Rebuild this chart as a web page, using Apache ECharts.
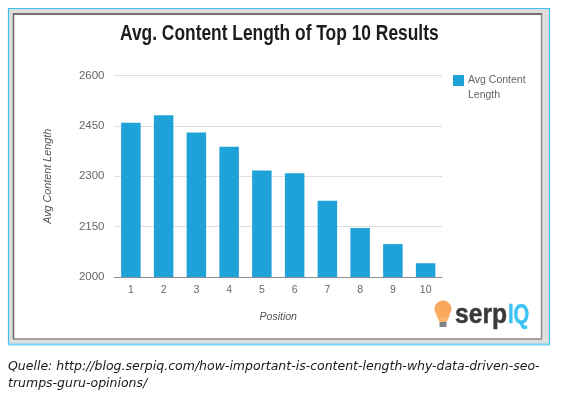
<!DOCTYPE html>
<html><head><meta charset="utf-8">
<style>html,body{margin:0;padding:0;background:#fff}#c{width:562px;height:393px}</style>
<script src="https://cdn.jsdelivr.net/npm/echarts@6/dist/echarts.min.js"></script>
</head><body><div id="c"></div>
<script>
const categories = ['1','2','3','4','5','6','7','8','9','10'];
const avgContentLength = [2459,2482,2430,2388,2317,2309,2227,2146,2098,2041];
const titleText = 'Avg. Content Length of Top 10 Results';
const seriesName = 'Avg Content Length';
const yAxisName = 'Avg Content Length';
const xAxisName = 'Position';
const captionText = 'Quelle: http://blog.serpiq.com/how-important-is-content-length-why-data-driven-seo-\ntrumps-guru-opinions/';
const chart = echarts.init(document.getElementById('c'), null, {renderer:'canvas'});
chart.setOption({
  animation:false,
  backgroundColor:'#fff',
  legend:{show:false},
  grid:{left:114.5,right:120,top:75.5,bottom:116,containLabel:false},
  xAxis:{type:'category',data:categories,name:xAxisName,nameLocation:'middle',nameGap:35,
    nameTextStyle:{fontFamily:'Liberation Sans',fontStyle:'italic',fontSize:10.5,color:'#555'},
    axisTick:{show:false},axisLine:{lineStyle:{color:'#8c8c8c',width:1}},
    axisLabel:{fontFamily:'Liberation Sans',fontSize:10.5,color:'#666',margin:8}},
  yAxis:{type:'value',min:2000,max:2600,interval:150,name:yAxisName,nameLocation:'middle',nameGap:61,nameRotate:90,
    nameTextStyle:{fontFamily:'Liberation Sans',fontStyle:'italic',fontSize:10.8,color:'#555'},
    axisLine:{show:false},axisTick:{show:false},
    splitLine:{lineStyle:{color:'#dedede',width:1}},
    axisLabel:{fontFamily:'Liberation Sans',fontSize:11.5,color:'#666',margin:10,formatter:v=>String(v)}},
  series:[{type:'bar',name:seriesName,data:avgContentLength,barWidth:19.5,itemStyle:{color:'#1fa2d8'}}],
  graphic:[
    {type:'rect',z:-1,silent:true,shape:{x:8.5,y:8.5,width:541,height:336},style:{fill:'#dedede',stroke:'#3cc3f3',lineWidth:1.2}},
    {type:'line',z:-1,silent:true,shape:{x1:8,y1:344.5,x2:550,y2:344.5},style:{stroke:'#74d4f6',lineWidth:2}},
    {type:'rect',z:-1,silent:true,shape:{x:13.5,y:14,width:528,height:325},style:{fill:'#fff',stroke:'#8a8a8a',lineWidth:1.4}},
    {type:'line',z:-1,silent:true,shape:{x1:13,y1:14,x2:542,y2:14},style:{stroke:'#444',lineWidth:1.2}},
    {type:'line',z:-1,silent:true,shape:{x1:13.5,y1:14,x2:13.5,y2:339},style:{stroke:'#666',lineWidth:1.2}},
    {type:'text',z:5,silent:true,x:120,y:23,scaleX:0.79,style:{text:titleText,fontFamily:'Liberation Sans',fontWeight:'bold',fontSize:22,fill:'#1c1c1c'}},
    {type:'rect',z:5,silent:true,shape:{x:453,y:75,width:11,height:11},style:{fill:'#1fa2d8'}},
    {type:'text',z:5,silent:true,style:{x:468,y:73,text:'Avg Content\nLength',fontFamily:'Liberation Sans',fontSize:10.5,lineHeight:14.5,fill:'#666'}},
    {type:'polygon',z:5,silent:true,shape:{points:[[436,315],[450,315],[446,323],[440,323]]},style:{fill:'#f9b36a'}},
    {type:'circle',z:5,silent:true,shape:{cx:443,cy:309,r:8.5},style:{fill:'#f8a95c'}},
    {type:'rect',z:5,silent:true,shape:{x:439.5,y:322,width:7,height:5},style:{fill:'#7d8488'}},
    {type:'text',z:5,silent:true,x:455,y:301,scaleX:0.88,style:{text:'serp',fontFamily:'Liberation Sans',fontWeight:'bold',fontSize:28,fill:'#3a3a3a',stroke:'#3a3a3a',lineWidth:0.5}},
    {type:'text',z:5,silent:true,x:508,y:301,scaleX:0.72,style:{text:'IQ',fontFamily:'Liberation Sans',fontWeight:'bold',fontSize:28,fill:'#3cc3f3',stroke:'#3cc3f3',lineWidth:0.5}},
    {type:'text',z:5,silent:true,style:{x:8,y:358,text:captionText,fontFamily:'DejaVu Sans',fontStyle:'italic',fontSize:12.5,lineHeight:17,fill:'#1a1a1a'}}
  ]
});
</script></body></html>
